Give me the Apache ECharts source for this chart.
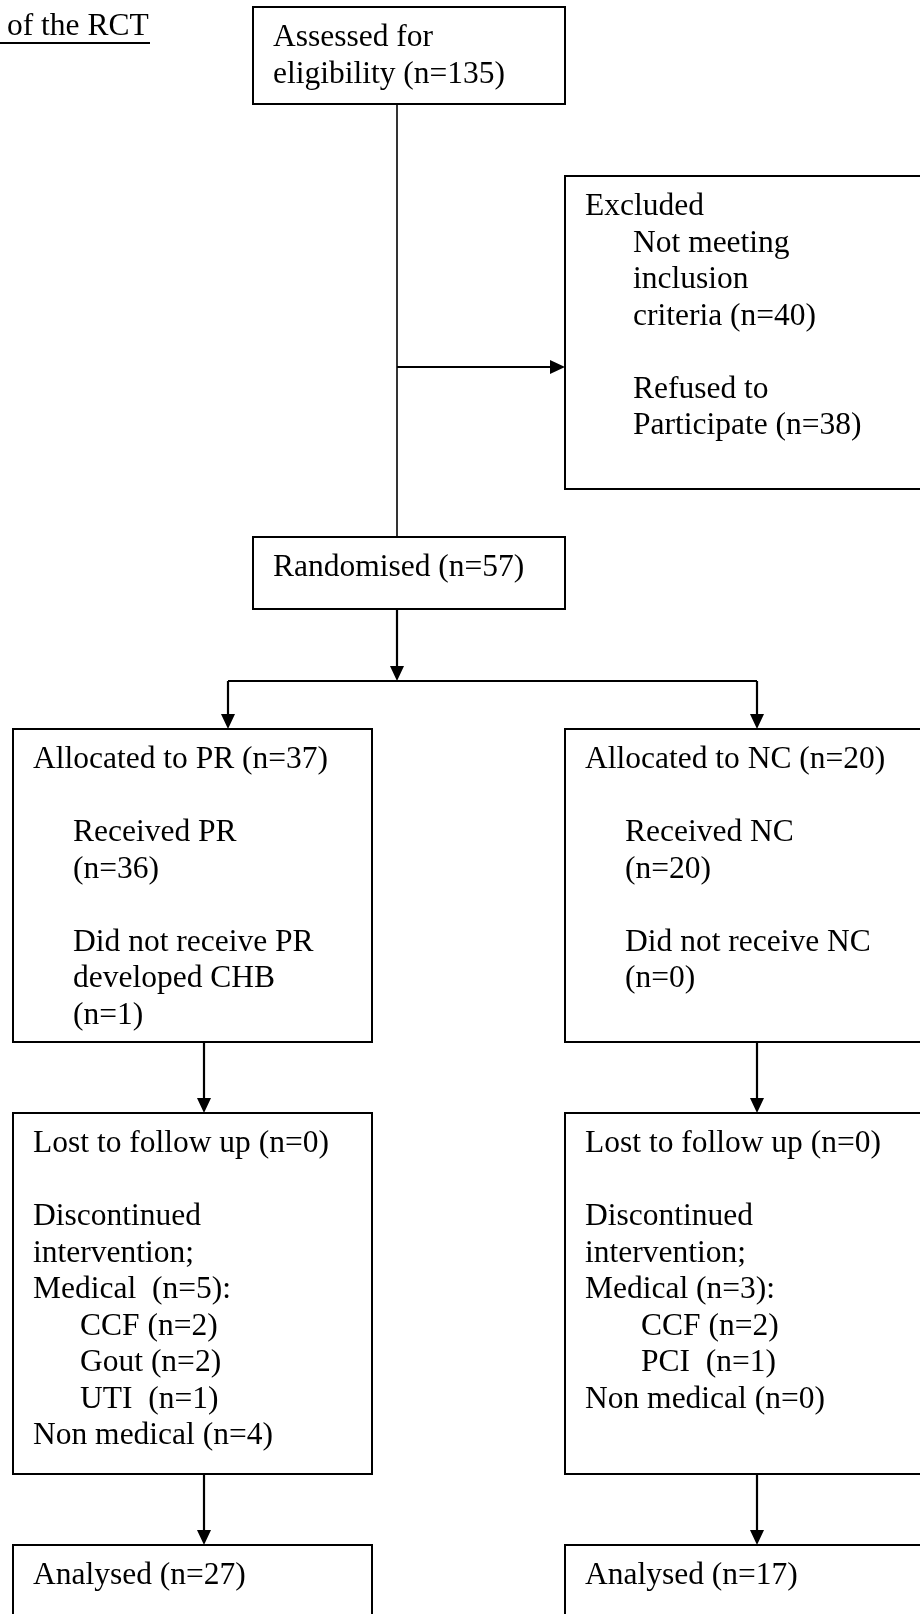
<!DOCTYPE html>
<html><head><meta charset="utf-8">
<script src="https://cdn.jsdelivr.net/npm/echarts@6.0.0/dist/echarts.min.js"></script>
<style>html,body{margin:0;padding:0;background:#fff}#c{width:920px;height:1614px}</style>
</head><body><div id="c"></div>
<script>
// ---------------- data ----------------
const titleText = 'of the RCT';
const assessed = 135;
const excludedNotMeeting = 40;
const excludedRefused = 38;
const randomised = 57;
const arms = ['PR', 'NC'];
const allocated = [37, 20];
const received = [36, 20];
const notReceived = [1, 0];
const notReceivedReason = ['developed CHB', null];
const lostFollowUp = [0, 0];
const medical = [5, 3];
const medicalReasons = [['CCF', 'Gout', 'UTI'], ['CCF', 'PCI']];
const medicalReasonCounts = [[2, 2, 1], [2, 1]];
const nonMedical = [4, 0];
const analysed = [27, 17];

// ---------------- layout (diagram units = pixels) ----------------
const W = 920, H = 1614;
const FONT = 31.5, LH = 36.5, FIRST = 31, PAD = 20;
const FAMILY = '"Liberation Serif", "Times New Roman", serif';
const boxes = {
  assessed:   [253, 7, 565, 104],
  excluded:   [565, 176, 935, 489],
  randomised: [253, 537, 565, 609],
  alloc:  [[13, 729, 372, 1042], [565, 729, 935, 1042]],
  lost:   [[13, 1113, 372, 1474], [565, 1113, 935, 1474]],
  anal:   [[13, 1545, 372, 1640], [565, 1545, 935, 1640]]
};
const armX = [204, 757];       // x of the vertical connectors under each arm
const splitX = [228, 757];     // x of the arrows into allocation boxes
const mainX = 397;             // x of the central trunk
const excludeY = 367;          // y of the arrow into the excluded box
const splitY = 681;            // y of the split line
const reasonIndent = [47, 56];

// ---------------- build text lines ----------------
function sp(n){ return n; }
const boxTexts = [];   // {box, lines:[[text, indent] | null]}
boxTexts.push({ box: boxes.assessed, lines: [['Assessed for', 0], ['eligibility (n=' + assessed + ')', 0]] });
boxTexts.push({ box: boxes.excluded, lines: [
  ['Excluded', 0], ['Not meeting', 48], ['inclusion', 48], ['criteria (n=' + excludedNotMeeting + ')', 48], null,
  ['Refused to', 48], ['Participate (n=' + excludedRefused + ')', 48]] });
boxTexts.push({ box: boxes.randomised, lines: [['Randomised (n=' + randomised + ')', 0]] });
arms.forEach(function (arm, i) {
  const a = [['Allocated to ' + arm + ' (n=' + allocated[i] + ')', 0], null,
    ['Received ' + arm, 40], ['(n=' + received[i] + ')', 40], null,
    ['Did not receive ' + arm, 40]];
  if (notReceivedReason[i]) a.push([notReceivedReason[i], 40]);
  a.push(['(n=' + notReceived[i] + ')', 40]);
  boxTexts.push({ box: boxes.alloc[i], lines: a });

  const l = [['Lost to follow up (n=' + lostFollowUp[i] + ')', 0], null,
    ['Discontinued', 0], ['intervention;', 0],
    ['Medical' + (i === 0 ? '  ' : ' ') + '(n=' + medical[i] + '):', 0]];
  medicalReasons[i].forEach(function (r, j) {
    const gap = (r === 'UTI' || r === 'PCI') ? '  ' : ' ';
    l.push([r + gap + '(n=' + medicalReasonCounts[i][j] + ')', reasonIndent[i]]);
  });
  l.push(['Non medical (n=' + nonMedical[i] + ')', 0]);
  boxTexts.push({ box: boxes.lost[i], lines: l });

  boxTexts.push({ box: boxes.anal[i], lines: [['Analysed (n=' + analysed[i] + ')', 0]] });
});

const textItems = [{ x: 7, y: 27, text: titleText }];
boxTexts.forEach(function (bt) {
  bt.lines.forEach(function (ln, k) {
    if (!ln) return;
    textItems.push({ x: bt.box[0] + PAD + ln[1], y: bt.box[1] + FIRST + LH * k, text: ln[0] });
  });
});

// ---------------- connectors ----------------
const links = [
  [0, 43, 150, 43, 0, 2.2],                                             // title underline
  [mainX, boxes.assessed[3], mainX, boxes.randomised[1], 0, 1.6],
  [mainX, excludeY, boxes.excluded[0], excludeY, 1, 2.2],
  [mainX, boxes.randomised[3], mainX, splitY, 1, 2.2],
  [splitX[0], splitY, splitX[1], splitY, 0, 2.2],
  [splitX[0], splitY, splitX[0], boxes.alloc[0][1], 1, 2.2],
  [splitX[1], splitY, splitX[1], boxes.alloc[1][1], 1, 2.2],
  [armX[0], boxes.alloc[0][3], armX[0], boxes.lost[0][1], 1, 2.2],
  [armX[1], boxes.alloc[1][3], armX[1], boxes.lost[1][1], 1, 2.2],
  [armX[0], boxes.lost[0][3], armX[0], boxes.anal[0][1], 1, 2.2],
  [armX[1], boxes.lost[1][3], armX[1], boxes.anal[1][1], 1, 2.2]
];
const rects = [boxes.assessed, boxes.excluded, boxes.randomised]
  .concat(boxes.alloc, boxes.lost, boxes.anal);

// ---------------- chart ----------------
const chart = echarts.init(document.getElementById('c'), null, { renderer: 'canvas' });
chart.setOption({
  animation: false,
  backgroundColor: '#fff',
  grid: { left: 0, right: 0, top: 0, bottom: 0 },
  xAxis: { type: 'value', min: 0, max: W, show: false },
  yAxis: { type: 'value', min: 0, max: H, inverse: true, show: false },
  series: [
    {
      type: 'custom', clip: false, silent: true,
      data: rects,
      renderItem: function (p, api) {
        const a = api.coord([api.value(0), api.value(1)]);
        const b = api.coord([api.value(2), api.value(3)]);
        return { type: 'rect', shape: { x: a[0], y: a[1], width: b[0] - a[0], height: b[1] - a[1] },
          style: { fill: 'rgba(0,0,0,0)', stroke: '#000', lineWidth: 2 } };
      }
    },
    {
      type: 'custom', clip: false, silent: true,
      data: links,
      renderItem: function (p, api) {
        const a = api.coord([api.value(0), api.value(1)]);
        const b = api.coord([api.value(2), api.value(3)]);
        const arrow = api.value(4), lw = api.value(5);
        const dx = b[0] - a[0], dy = b[1] - a[1];
        const len = Math.sqrt(dx * dx + dy * dy);
        const ux = dx / len, uy = dy / len;
        const AL = 15, AW = 7;
        const end = arrow ? [b[0] - ux * AL, b[1] - uy * AL] : b;
        const children = [{ type: 'line', shape: { x1: a[0], y1: a[1], x2: end[0], y2: end[1] },
          style: { stroke: '#000', lineWidth: lw } }];
        if (arrow) {
          children.push({ type: 'polygon', shape: { points: [
            [b[0], b[1]],
            [end[0] - uy * AW, end[1] + ux * AW],
            [end[0] + uy * AW, end[1] - ux * AW]] }, style: { fill: '#000' } });
        }
        return { type: 'group', children: children };
      }
    },
    {
      type: 'custom', clip: false, silent: true,
      data: textItems.map(function (t, i) { return [t.x, t.y, i]; }),
      renderItem: function (p, api) {
        const c = api.coord([api.value(0), api.value(1)]);
        return { type: 'text', x: c[0], y: c[1],
          style: { text: textItems[api.value(2)].text, fontSize: FONT, fontFamily: FAMILY,
            fill: '#000', align: 'left', verticalAlign: 'middle' } };
      }
    }
  ]
});
</script></body></html>
